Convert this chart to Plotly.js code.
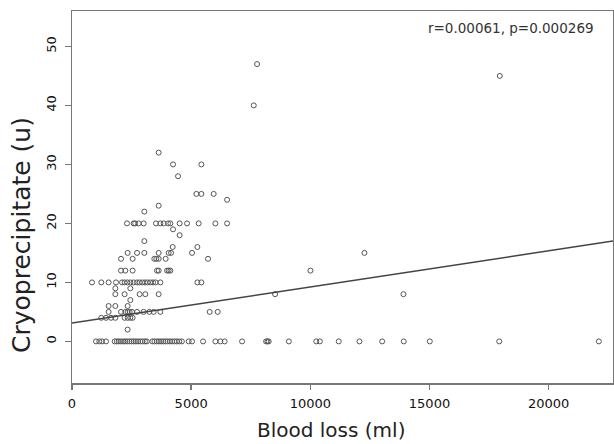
<!DOCTYPE html>
<html>
<head>
<meta charset="utf-8">
<script src="https://cdn.plot.ly/plotly-3.0.1.min.js"></script>
<style>html,body{margin:0;padding:0;background:#fff;}#chart{width:614px;height:444px;}</style>
</head>
<body>
<div id="chart"></div>
<script>
// Blood loss (ml) and cryoprecipitate (u)
const bloodLoss = [
  7766, 17950, 7626, 3636, 4240, 5428, 4450, 5218, 5428, 5945, 6507, 3636, 3035,
  // y = 20
  2309, 2586, 2650, 2796, 3006, 3526, 3707, 3845, 4030, 4127, 4517, 4828, 5315, 6016, 6507,
  4240, 4517, 3035, 4225, 5260,
  // y = 15
  2334, 2729, 3035, 3636, 4055, 4156, 5038, 12271,
  // y = 14
  2057, 2544, 3455, 3539, 3636, 3929, 5709,
  // y = 12
  2057, 2238, 2544, 3568, 3636, 3988, 4055, 4127, 10005,
  // y = 10
  840, 1230, 1537, 1847, 2099, 2208, 2322, 2447, 2586, 2729, 2838, 2951, 3065, 3174, 3287, 3400, 3510, 3707, 5260, 5428,
  // y = 9, 8, 7, 6
  1818, 2447,
  1818, 2208, 2838, 3077, 3636, 8522, 13908,
  2447,
  1537, 1818, 2334,
  // y = 5
  1537, 2057, 2238, 2334, 2418, 2519, 2729, 3006, 3245, 3426, 3707, 5777, 6113,
  // y = 4, 2
  1230, 1427, 1637, 1818, 2208, 2334, 2447, 2544,
  2334,
  // y = 0
  1007, 1146, 1259, 1427, 1790, 1880, 1960, 2050, 2150, 2230, 2320, 2410, 2500, 2590, 2680, 2770, 2870, 2960, 3060, 3140,
  3370, 3460, 3560, 3650, 3740, 3830, 3920, 4010, 4110, 4200, 4300, 4400, 4500, 4610,
  4895, 5038, 5499, 6016, 6226, 6406, 7137, 8144, 8200, 8253, 9100, 10250, 10400, 11193, 12061, 13014, 13921, 15013, 17926, 22107
];
const cryo = [
  47, 45, 40, 32, 30, 30, 28, 25, 25, 25, 24, 23, 22,
  20, 20, 20, 20, 20, 20, 20, 20, 20, 20, 20, 20, 20, 20, 20,
  19, 18, 17, 16, 16,
  15, 15, 15, 15, 15, 15, 15, 15,
  14, 14, 14, 14, 14, 14, 14,
  12, 12, 12, 12, 12, 12, 12, 12, 12,
  10, 10, 10, 10, 10, 10, 10, 10, 10, 10, 10, 10, 10, 10, 10, 10, 10, 10, 10, 10,
  9, 9,
  8, 8, 8, 8, 8, 8, 8,
  7,
  6, 6, 6,
  5, 5, 5, 5, 5, 5, 5, 5, 5, 5, 5, 5, 5,
  4, 4, 4, 4, 4, 4, 4, 4,
  2,
  0, 0, 0, 0, 0, 0, 0, 0, 0, 0, 0, 0, 0, 0, 0, 0, 0, 0, 0, 0,
  0, 0, 0, 0, 0, 0, 0, 0, 0, 0, 0, 0, 0, 0,
  0, 0, 0, 0, 0, 0, 0, 0, 0, 0, 0, 0, 0, 0, 0, 0, 0, 0, 0, 0
];
const fitIntercept = 3.1;
const fitSlope = 0.000613;
const xTicks = [0, 5000, 10000, 15000, 20000];
const yTicks = [0, 10, 20, 30, 40, 50];
const xTitle = 'Blood loss (ml)';
const yTitle = 'Cryoprecipitate (u)';
const statText = 'r=0.00061, p=0.000269';

const xRange = [0, 22700];
const yRange = [-7.05, 56.0];

const fitX = [xRange[0], xRange[1]];
const fitY = fitX.map(v => fitIntercept + fitSlope * v);

const data = [
  {x: bloodLoss, y: cryo, type: 'scatter', mode: 'markers',
   marker: {symbol: 'circle-open', size: 5, color: '#555', line: {width: 1, color: '#555'}},
   hoverinfo: 'none'},
  {x: fitX, y: fitY, type: 'scatter', mode: 'lines',
   line: {color: '#444', width: 1.5}, hoverinfo: 'none'}
];

const fam = 'DejaVu Sans, Verdana, sans-serif';
const axisFont = {family: fam, size: 13, color: '#111'};
const layout = {
  width: 614, height: 444,
  margin: {l: 72, r: 1, t: 11, b: 61},
  paper_bgcolor: '#fff', plot_bgcolor: '#fff',
  showlegend: false,
  xaxis: {range: xRange, tickvals: xTicks, ticktext: xTicks.map(String),
    showgrid: false, zeroline: false, showline: true, mirror: true,
    linecolor: '#777', linewidth: 1.5, ticks: 'outside', ticklen: 5, tickcolor: '#777', tickwidth: 1.5,
    tickfont: axisFont, ticklabelstandoff: 3},
  yaxis: {range: yRange, tickvals: yTicks, ticktext: yTicks.map(String),
    showgrid: false, zeroline: false, showline: true, mirror: true,
    linecolor: '#777', linewidth: 1.5, ticks: 'outside', ticklen: 6, tickcolor: '#777', tickwidth: 1.5,
    tickfont: axisFont, tickangle: -90, ticklabelstandoff: 3},
  annotations: [
    {text: statText, xref: 'paper', yref: 'paper', x: 0.812, y: 0.954,
     xanchor: 'center', yanchor: 'middle', showarrow: false,
     font: {family: fam, size: 13.5, color: '#333'}},
    {text: xTitle, xref: 'paper', yref: 'paper', x: 0.479, y: -0.126,
     xanchor: 'center', yanchor: 'middle', showarrow: false,
     font: {family: fam, size: 20, color: '#222'}},
    {text: yTitle, xref: 'paper', yref: 'paper', x: -0.0924, y: 0.398, textangle: -90,
     xanchor: 'center', yanchor: 'middle', showarrow: false,
     font: {family: fam, size: 25, color: '#222'}}
  ]
};

Plotly.newPlot('chart', data, layout, {staticPlot: true, displayModeBar: false});
</script>
</body>
</html>
